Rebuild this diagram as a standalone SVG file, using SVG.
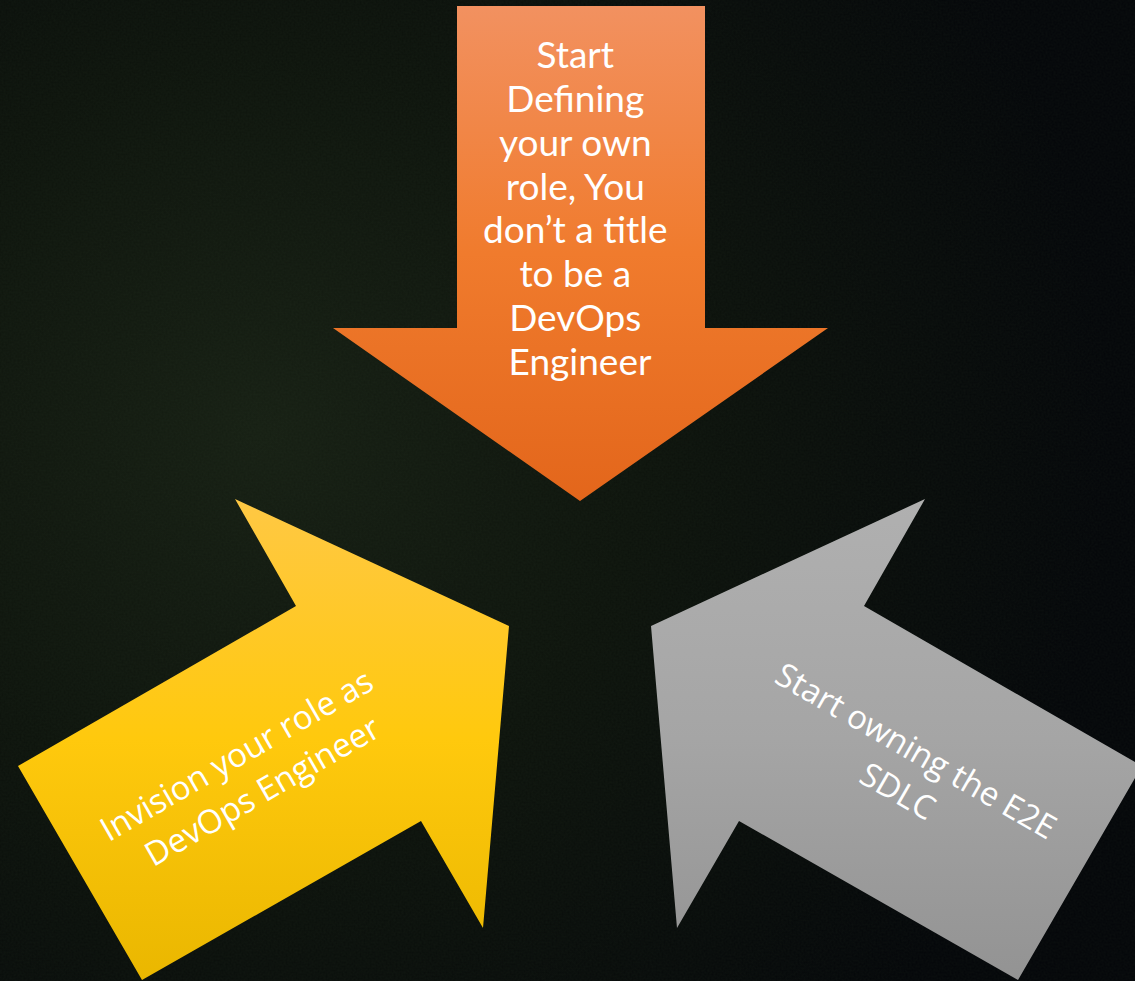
<svg xmlns="http://www.w3.org/2000/svg" width="1135" height="981" viewBox="0 0 1135 981">
<defs>
<radialGradient id="bg" cx="260" cy="430" r="850" gradientUnits="userSpaceOnUse">
<stop offset="0" stop-color="#172014"/>
<stop offset="0.45" stop-color="#0e140d"/>
<stop offset="1" stop-color="#05070a"/>
</radialGradient>
<linearGradient id="gOrange" x1="0" y1="6" x2="0" y2="501" gradientUnits="userSpaceOnUse">
<stop offset="0" stop-color="#f29160"/>
<stop offset="0.5" stop-color="#f07b2d"/>
<stop offset="1" stop-color="#e3661b"/>
</linearGradient>
<linearGradient id="gYellow" x1="0" y1="499" x2="0" y2="980" gradientUnits="userSpaceOnUse">
<stop offset="0" stop-color="#ffc844"/>
<stop offset="0.5" stop-color="#ffc90d"/>
<stop offset="1" stop-color="#eab700"/>
</linearGradient>
<linearGradient id="gGray" x1="0" y1="499" x2="0" y2="980" gradientUnits="userSpaceOnUse">
<stop offset="0" stop-color="#b0b0b0"/>
<stop offset="0.5" stop-color="#a5a5a5"/>
<stop offset="1" stop-color="#939393"/>
</linearGradient>
<filter id="noise" x="0" y="0" width="100%" height="100%">
<feTurbulence type="fractalNoise" baseFrequency="0.5" numOctaves="2" seed="3"/>
<feColorMatrix type="matrix" values="0 0 0 0 0.15  0 0 0 0 0.25  0 0 0 0 0.12  0 0 0 0.3 -0.05"/>
</filter>
<style>
.lbl{fill:#ffffff;text-anchor:middle}
.top{font-family:Lato,"Liberation Sans",sans-serif;font-size:37px}
.rot{font-family:"Open Sans","DejaVu Sans",sans-serif;font-size:33px}
</style>
</defs>
<rect width="1135" height="981" fill="url(#bg)"/>
<rect width="1135" height="981" filter="url(#noise)" opacity="0.25"/>
<g id="connectors"></g>
<g id="node-top">
<polygon points="457,6 705,6 705,328 828,328 580,501 333,328 457,328" fill="url(#gOrange)"/>
<text class="lbl top">
<tspan x="580" y="68">Start</tspan>
<tspan x="580" y="112">Defining</tspan>
<tspan x="580" y="156">your own</tspan>
<tspan x="580" y="200">role, You</tspan>
<tspan x="580" y="243">don’t a title</tspan>
<tspan x="580" y="287">to be a</tspan>
<tspan x="580" y="331">DevOps</tspan>
<tspan x="580" y="375">Engineer</tspan>
</text>
</g>
<g id="node-left">
<polygon points="18,766 296,606 235,499 509,626 483,928 421,821 142,980" fill="url(#gYellow)"/>
<text class="lbl rot" transform="translate(250,770) rotate(-30)">
<tspan x="0" y="-8">Invision your role as</tspan>
<tspan x="0" y="36">DevOps Engineer</tspan>
</text>
</g>
<g id="node-right">
<polygon points="1142,766 864,606 925,499 651,626 677,928 739,821 1018,980" fill="url(#gGray)"/>
<text class="lbl rot" transform="translate(910,770) rotate(30)">
<tspan x="0" y="-8">Start owning the E2E</tspan>
<tspan x="0" y="36">SDLC</tspan>
</text>
</g>
</svg>
